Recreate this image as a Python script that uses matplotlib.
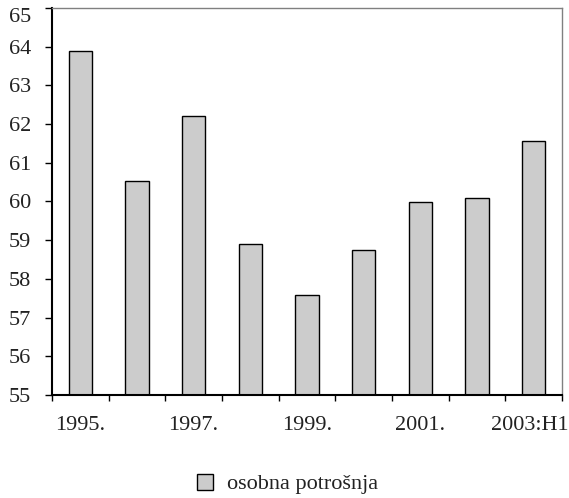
import numpy as np
import matplotlib.pyplot as plt
from matplotlib.patches import Patch
from matplotlib.transforms import ScaledTranslation

plt.rcParams['font.family'] = ['Liberation Serif', 'DejaVu Serif']

years = ["1995.", "1996.", "1997.", "1998.", "1999.", "2000.", "2001.", "2002.", "2003:H1"]
vals = [63.89, 60.53, 62.22, 58.91, 57.59, 58.75, 59.98, 60.09, 61.56]
shown = ["1995.", "", "1997.", "", "1999.", "", "2001.", "", "2003:H1"]

fig = plt.figure(figsize=(5.69, 4.98), dpi=100)
ax = fig.add_axes([0.0914, 0.2068, 0.8963, 0.7772])

x = np.arange(len(years))
ax.bar(x, vals, width=0.41, bottom=0, color="#cccccc", edgecolor="black", linewidth=1.0)

ax.set_ylim(55, 65)
ax.set_xlim(-0.5, len(years) - 0.5)
ax.set_yticks(np.arange(55, 66, 1))
ax.set_xticks(x)
ax.set_xticklabels(shown)
ax.set_xticks(np.arange(-0.5, len(years), 1), minor=True)
ax.tick_params(axis="x", which="major", length=0, pad=15, labelsize=16, labelcolor="#222222")
ax.tick_params(axis="x", which="minor", length=4, width=1, direction="out")
ax.tick_params(axis="y", length=5, width=1, direction="out", pad=10, labelsize=16, labelcolor="#222222")

# top label pushed down to stay inside the figure, last x label pulled left
ax.get_yticklabels()[-1].set_va("top")
lab = ax.get_xticklabels()[-1]
lab.set_transform(lab.get_transform() + ScaledTranslation(-3 / 72, 0, fig.dpi_scale_trans))

for s in ["left", "bottom"]:
    ax.spines[s].set_linewidth(1.5)
    ax.spines[s].set_color("black")
for s in ["top", "right"]:
    ax.spines[s].set_linewidth(1.0)
    ax.spines[s].set_color("#808080")

fig.legend(handles=[Patch(facecolor="#cccccc", edgecolor="black", label="osobna potrošnja")],
           loc="center", bbox_to_anchor=(0.505, 0.028), frameon=False, fontsize=16,
           handlelength=0.73, handleheight=0.73, handletextpad=0.64, labelcolor="#222222")

fig.savefig("out.png", dpi=100)
